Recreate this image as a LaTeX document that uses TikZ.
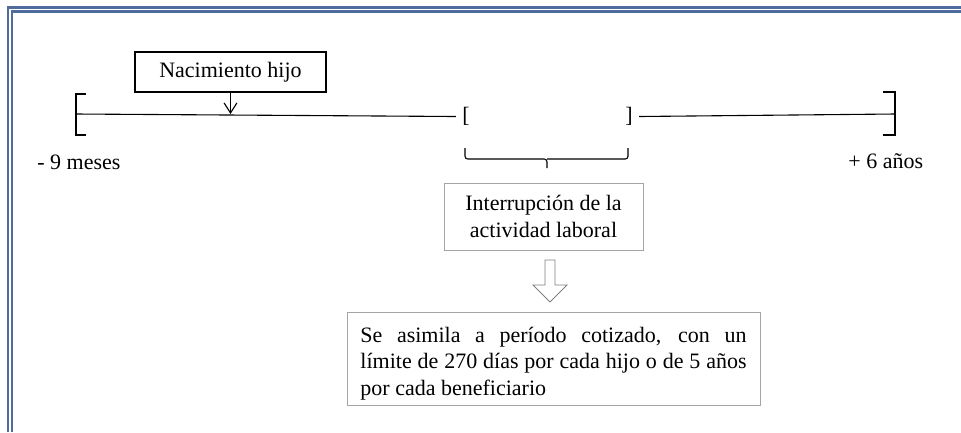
\documentclass[tikz,border=0pt]{standalone}
\usepackage{fontspec}
\setmainfont{Liberation Serif}
\usetikzlibrary{arrows.meta}
\definecolor{marco}{RGB}{79,108,158}
\definecolor{gris}{RGB}{165,165,165}
\definecolor{grisflecha}{RGB}{128,128,128}

\begin{document}
\begin{tikzpicture}[x=0.5455pt,y=-0.5455pt,
  font=\fontsize{12}{14.4}\selectfont,
  caja/.style={draw,line width=0.6pt,align=center,inner sep=0pt},
  cajagris/.style={draw=gris,line width=0.5pt,inner sep=0pt},
  linea/.style={line width=0.6pt},
  corchete/.style={line width=0.65pt},
  texto/.style={anchor=base west,inner sep=0pt}]
\useasboundingbox (0,0) rectangle (961,432);
\draw[marco,line width=1.1pt] (8.3,432) -- (8.3,7.5) -- (961,7.5);
\draw[marco,line width=1.1pt] (12.3,432) -- (12.3,11.5) -- (961,11.5);
\node[caja,minimum width=104.2pt,minimum height=21.8pt] (nac) at (230.5,72) {Nacimiento hijo};
\coordinate (ini) at (76,114);
\coordinate (fin) at (895,114);
\coordinate (parto) at (230.5,114);
\node (abre) at (466,116.5) {[};
\node (cierra) at (629,116.5) {]};
\draw[corchete] (86,94) -| (76,135) -- (86,135);
\draw[corchete] (883,92) -| (895,135) -- (883,135);
\draw[linea] (ini) -- (abre.west);
\draw[linea] (cierra.east) -- (fin);
\draw[linea,-{Straight Barb[length=5.5pt,width=7pt]}] (nac) -- (parto);
\node[texto] (menos) at (37,169) {- 9 meses};
\node[texto] (mas) at (848,168) {+ 6 años};
\draw[linea,rounded corners=1.5pt] (465,148) |- (547,159) -- (547,168);
\draw[linea,rounded corners=1.5pt] (628,148) |- (547,159);
\node[cajagris,minimum width=108.6pt,minimum height=36.5pt,align=center] (inter) at (543.5,216.5) {Interrupción de la\\actividad laboral};
\draw[grisflecha,line width=0.5pt] (545,260) -- (555,260) -- (555,285) -- (567,285) -- (550,302) -- (533,285) -- (545,285) -- cycle;
\node[cajagris,anchor=north,minimum width=225.3pt,text width=210.6pt,align=justify] (asim) at (553.5,312) {\rule{0pt}{16.4pt}Se asimila a período cotizado, con un\linebreak límite de 270 días por cada hijo o de 5 años\linebreak por cada beneficiario\rule[-5.5pt]{0pt}{5.5pt}};
\end{tikzpicture}
\end{document}
